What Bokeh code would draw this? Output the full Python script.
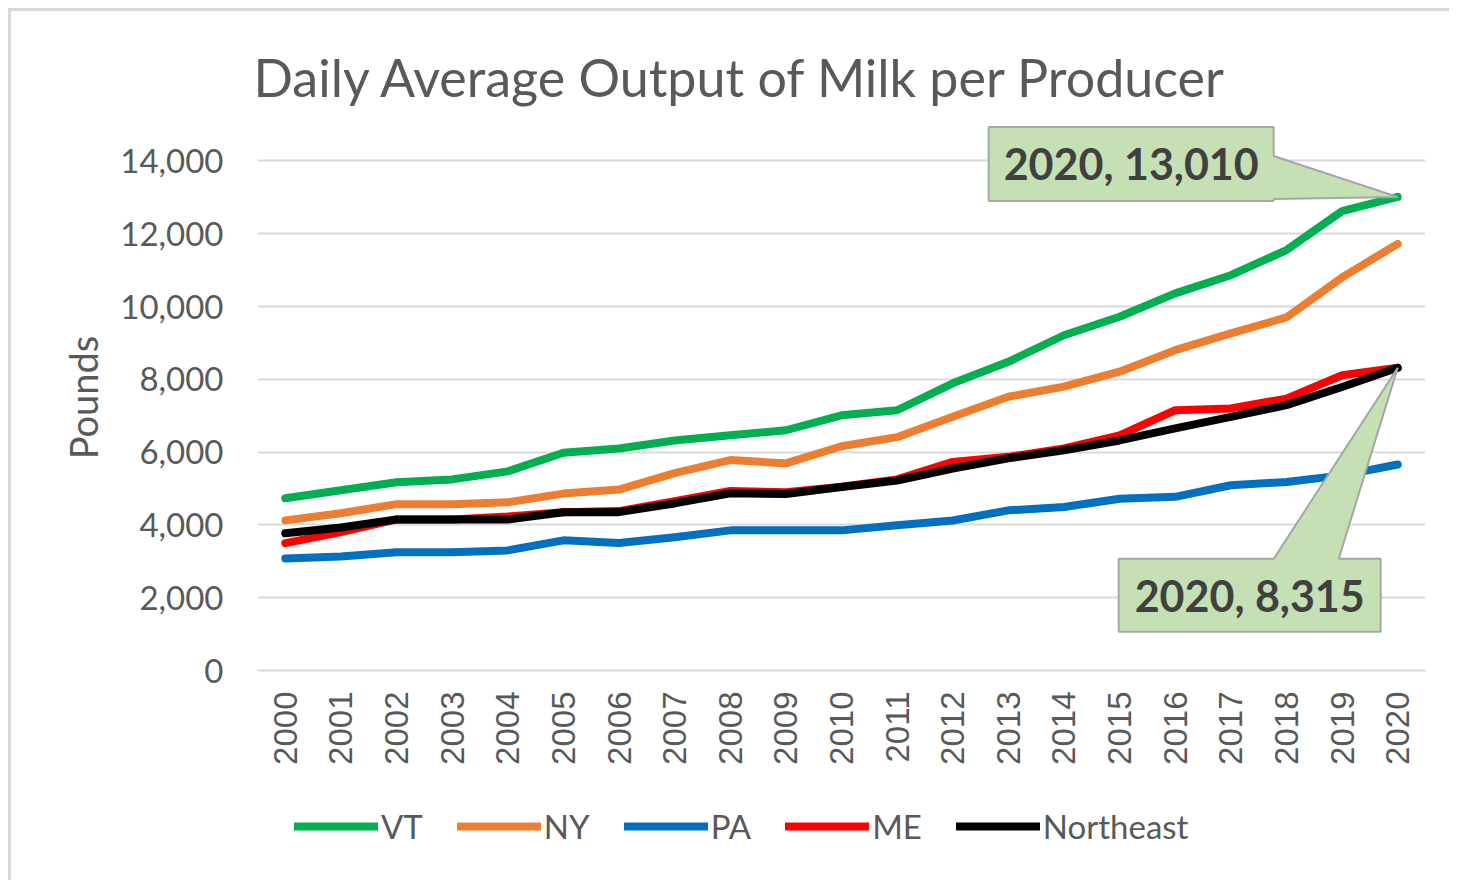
from bokeh.plotting import figure
from bokeh.models import (Range1d, FixedTicker, NumeralTickFormatter, Legend, LegendItem, Label)
from bokeh.layouts import column
from bokeh.embed import file_html
from bokeh.resources import INLINE
import math

years = list(range(2000, 2021))
vt = [4730, 4950, 5170, 5250, 5470, 5980, 6100, 6320, 6460, 6600, 7010, 7150,
      7890, 8480, 9210, 9720, 10360, 10860, 11550, 12620, 13010]
ny = [4125, 4320, 4570, 4570, 4620, 4860, 4970, 5420, 5780, 5690, 6160, 6410,
      6970, 7520, 7800, 8210, 8800, 9260, 9700, 10800, 11720]
pa = [3080, 3130, 3250, 3250, 3300, 3575, 3500, 3660, 3850, 3850, 3850, 3990,
      4120, 4400, 4490, 4720, 4770, 5090, 5180, 5360, 5660]
me = [3500, 3800, 4150, 4150, 4230, 4350, 4380, 4650, 4930, 4900, 5050, 5250,
      5730, 5870, 6100, 6460, 7150, 7200, 7470, 8110, 8315]
northeast = [3770, 3930, 4150, 4150, 4150, 4350, 4350, 4590, 4870, 4850, 5040, 5220,
             5550, 5830, 6050, 6320, 6650, 6970, 7290, 7790, 8315]

series_names = ["VT", "NY", "PA", "ME", "Northeast"]
series_values = [vt, ny, pa, me, northeast]
series_colors = ["#00B050", "#ED7D31", "#0070C0", "#FF0000", "#000000"]

y_ticks = [0, 2000, 4000, 6000, 8000, 10000, 12000, 14000]

SHIFT = 11  # outer margin + chart border
FRAME_W, FRAME_H = 1168, 546
BL, BT, BB, BR = 257 - SHIFT, 124 - SHIFT, 110, 24
TOTAL_W = BL + FRAME_W + BR
LEG_H = 100
X0, X1 = years[0] - 0.5, years[-1] + 0.5
Y0, Y1 = 0, 15000
px_x = FRAME_W / (X1 - X0)
px_y = FRAME_H / (Y1 - Y0)

TEXT = "#595959"
FONT = "Lato"

p = figure(frame_width=FRAME_W, frame_height=FRAME_H, output_backend="svg", toolbar_location=None,
           x_range=Range1d(X0, X1), y_range=Range1d(Y0, Y1),
           min_border_left=BL, min_border_right=BR,
           min_border_top=BT, min_border_bottom=BB,
           title="Daily Average Output of Milk per Producer")

p.title.text_font = FONT
p.title.text_font_size = "52px"
p.title.text_font_style = "normal"
p.title.text_color = TEXT
p.title.align = "left"
p.title.offset = -4
p.title.standoff = 33

p.outline_line_color = None
p.background_fill_color = "white"
p.border_fill_color = "white"

p.xgrid.grid_line_color = None
p.ygrid.grid_line_color = "#D9D9D9"
p.ygrid.grid_line_width = 2
p.ygrid.ticker = FixedTicker(ticks=y_ticks)

p.yaxis.ticker = FixedTicker(ticks=y_ticks)
p.yaxis.formatter = NumeralTickFormatter(format="0,0")
p.yaxis.axis_line_color = None
p.yaxis.major_tick_line_color = None
p.yaxis.minor_tick_line_color = None
p.yaxis.major_label_text_font = FONT
p.yaxis.major_label_text_font_size = "33px"
p.yaxis.major_label_text_color = TEXT
p.yaxis.major_label_standoff = 28
p.yaxis.axis_label = "Pounds"
p.yaxis.axis_label_text_font = FONT
p.yaxis.axis_label_text_font_size = "38px"
p.yaxis.axis_label_text_font_style = "normal"
p.yaxis.axis_label_text_color = TEXT
p.yaxis.axis_label_standoff = 11

p.xaxis.ticker = FixedTicker(ticks=years)
p.xaxis.major_label_orientation = math.pi / 2
p.xaxis.axis_line_color = "#D9D9D9"
p.xaxis.axis_line_width = 2
p.xaxis.major_tick_line_color = None
p.xaxis.minor_tick_line_color = None
p.xaxis.major_label_text_font = "Liberation Sans"
p.xaxis.major_label_text_font_size = "33px"
p.xaxis.major_label_text_color = TEXT
p.xaxis.major_label_standoff = 15

for name, vals, col in zip(series_names, series_values, series_colors):
    p.line(years, vals, line_color=col, line_width=8, line_join="round", line_cap="round")

# Callouts (offsets in screen pixels relative to the annotated data point)
def callout(xv, yv, box, wedge, side, text):
    l, r_, t, b = box
    if side == "right":
        pts = [(l, t), (r_, t), (r_, wedge[0]), (0, 0), (r_, wedge[1]), (r_, b), (l, b)]
    else:
        pts = [(l, t), (wedge[0], t), (0, 0), (wedge[1], t), (r_, t), (r_, b), (l, b)]
    xs = [xv + dx / px_x for dx, dy in pts]
    ys = [yv - dy / px_y for dx, dy in pts]
    p.patch(xs, ys, fill_color="#C5E0B4", line_color="#A6A6A6", line_width=2)
    cx = xv + (l + r_) / 2 / px_x
    cy = yv - (t + b) / 2 / px_y
    p.add_layout(Label(x=cx, y=cy, text=text, text_align="center", text_baseline="middle",
                       text_font=FONT, text_font_size="43px", text_font_style="bold",
                       text_color="#404040"))

callout(years[-1], vt[-1], (-409, -124, -70, 4), (-41, 2), "right",
        f"{years[-1]}, {vt[-1]:,}")
callout(years[-1], northeast[-1], (-279, -17, 191, 264), (-124, -59), "top",
        f"{years[-1]}, {northeast[-1]:,}")

# Legend strip below the chart (its lines lie outside its own view; only the key shows)
lg = figure(width=TOTAL_W, height=LEG_H, output_backend="svg", toolbar_location=None,
            x_range=Range1d(0, 1), y_range=Range1d(0, 1),
            x_axis_type=None, y_axis_type=None,
            min_border_left=0, min_border_right=0, min_border_top=0, min_border_bottom=0)
lg.outline_line_color = None
lg.xgrid.grid_line_color = None
lg.ygrid.grid_line_color = None
items = []
for name, vals, col in zip(series_names, series_values, series_colors):
    r = lg.line(years, vals, line_color=col, line_width=8, line_cap="round")
    items.append(LegendItem(label=name, renderers=[r]))
legend = Legend(items=items, orientation="horizontal", location=(37, 34),
                label_text_font=FONT, label_text_font_size="33px", label_text_color=TEXT,
                glyph_width=84, glyph_height=30, label_standoff=3, spacing=34,
                padding=5, margin=0, border_line_color=None, background_fill_alpha=0)
lg.add_layout(legend, "center")

layout = column(p, lg, spacing=0,
                styles={"margin-left": "8px", "margin-top": "8px",
                        "border-left": "3px solid #D9D9D9", "border-top": "3px solid #D9D9D9"})
open("out.html", "w").write(file_html(layout, INLINE))
